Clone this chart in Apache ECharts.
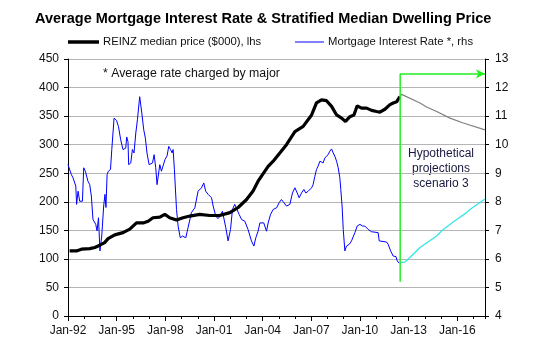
<!DOCTYPE html>
<html><head><meta charset="utf-8">
<script src="https://cdn.jsdelivr.net/npm/echarts@6/dist/echarts.min.js"></script>
<style>html,body{margin:0;padding:0;background:#fff}#c{width:550px;height:343px}</style>
</head><body><div id="c"></div>
<script>
// ---- data (x = decimal year) ----
const xTickYears = [1992,1995,1998,2001,2004,2007,2010,2013,2016];
const leftTicks = [0,50,100,150,200,250,300,350,400,450];
const rightTicks = [4,5,6,7,8,9,10,11,12,13];
const seriesNames = ['REINZ median price ($000), lhs', 'Mortgage Interest Rate *, rhs'];

const priceYears = [1992.10,1992.52,1992.83,1993.34,1993.65,1993.96,1994.26,1994.47,1994.88,1995.39,1995.81,1996.22,1996.63,1996.94,1997.24,1997.66,1997.97,1998.27,1998.69,1999.09,1999.51,2000.12,2000.74,2001.35,2001.98,2002.49,2003.01,2003.41,2003.72,2003.93,2004.34,2004.65,2005.06,2005.47,2005.99,2006.50,2007.02,2007.32,2007.63,2007.94,2008.25,2008.56,2008.87,2009.11,2009.38,2009.63,2009.83,2010.10,2010.41,2010.72,2011.03,2011.23,2011.54,2011.85,2012.05,2012.26,2012.46];
const priceValues = [114,114,117,118,120,124,128.5,135.5,142,146,152,163,163,166,172,173,178,172,168,172,175,178,176,176,181,190,204,219,236,245,262,271,285.5,300,323,332,352,373,378.5,377,367,352,346.5,340.7,349,352,368,364,364,360,358,357,362,370,373,375,384];

const rateYears = [1992.00,1992.10,1992.21,1992.31,1992.48,1992.53,1992.62,1992.72,1992.89,1992.97,1993.07,1993.23,1993.34,1993.44,1993.54,1993.71,1993.79,1993.88,1993.97,1994.08,1994.20,1994.28,1994.34,1994.41,1994.49,1994.62,1994.70,1994.84,1994.99,1995.11,1995.25,1995.39,1995.50,1995.56,1995.62,1995.70,1995.74,1995.87,1995.97,1996.07,1996.18,1996.28,1996.42,1996.55,1996.67,1996.77,1996.87,1997.00,1997.08,1997.21,1997.31,1997.41,1997.49,1997.66,1997.76,1997.86,1997.98,1998.11,1998.21,1998.32,1998.42,1998.48,1998.56,1998.69,1998.79,1998.92,1999.06,1999.26,1999.40,1999.61,1999.82,2000.02,2000.23,2000.37,2000.49,2000.64,2000.85,2000.95,2001.11,2001.25,2001.38,2001.52,2001.62,2001.73,2001.87,2002.02,2002.14,2002.28,2002.39,2002.55,2002.70,2002.90,2003.10,2003.21,2003.31,2003.46,2003.58,2003.72,2003.83,2003.93,2004.07,2004.24,2004.34,2004.49,2004.65,2004.86,2005.02,2005.16,2005.31,2005.47,2005.68,2005.84,2005.99,2006.13,2006.25,2006.40,2006.54,2006.66,2006.81,2007.02,2007.11,2007.22,2007.32,2007.42,2007.53,2007.63,2007.73,2007.84,2007.94,2008.04,2008.14,2008.25,2008.35,2008.45,2008.56,2008.66,2008.76,2008.82,2008.90,2008.97,2009.07,2009.17,2009.34,2009.48,2009.58,2009.69,2009.83,2010.00,2010.16,2010.30,2010.41,2010.51,2010.72,2011.12,2011.19,2011.64,2011.74,2011.89,2011.97,2012.05,2012.22,2012.30,2012.42];
const rateValues = [9.30,9.35,8.95,8.84,8.55,7.91,8.37,8.02,8.02,9.19,9.07,8.72,8.60,8.20,7.38,7.21,6.98,7.44,6.28,6.80,7.85,8.26,7.80,8.95,9.07,9.13,9.83,10.93,10.85,10.64,10.17,9.83,9.77,9.88,10.27,10.10,9.30,9.36,9.83,9.71,10.41,10.87,11.68,11.11,10.52,10.23,9.71,9.30,9.36,9.36,9.65,9.19,8.60,9.30,9.07,9.13,9.48,9.61,9.94,9.83,9.71,9.83,9.13,7.73,7.15,6.74,6.80,6.74,7.09,7.62,7.79,8.37,8.49,8.66,8.37,8.26,8.14,7.85,7.50,7.41,7.50,7.67,7.67,7.09,6.63,7.03,7.73,7.91,7.85,7.56,7.38,7.32,7.03,6.97,6.63,6.45,6.74,6.97,7.26,7.32,7.26,6.97,7.26,7.56,7.73,7.79,7.97,8.08,7.97,7.85,7.91,8.31,8.49,8.31,8.14,8.31,8.43,8.31,8.37,8.49,8.60,8.89,9.13,9.25,9.42,9.48,9.36,9.54,9.48,9.65,9.77,9.85,9.71,9.60,9.42,9.19,8.84,8.43,7.85,7.03,6.28,6.45,6.51,6.63,6.68,6.92,7.15,7.21,7.15,7.15,7.21,7.03,6.95,6.92,6.63,6.59,6.51,6.28,6.22,6.10,6.08,5.93,5.85];

const priceProjYears = [2012.46,2012.57,2013.70,2014.11,2014.73,2015.55,2016.37,2017.71];
const priceProjValues = [384,388,373,366,358,346.5,338,326];

const rateProjYears = [2012.51,2012.77,2013.08,2013.70,2014.73,2015.13,2015.96,2016.58,2016.78,2017.71];
const rateProjValues = [5.87,5.89,6.05,6.40,6.80,7.03,7.38,7.62,7.73,8.10];

const arrowYear = 2012.48, arrowEndYear = 2017.71, arrowBottom = 5.2, arrowTop = 12.48;

const xMin = 1992, xMax = 2017.71;

const zip = (a, b) => a.map((v, i) => [v, b[i]]);
const FONT = 'Liberation Sans, Arial, sans-serif';

const chart = echarts.init(document.getElementById('c'), null, {renderer: 'canvas'});
chart.setOption({
  animation: false,
  backgroundColor: '#fff',
  textStyle: {fontFamily: FONT},
  grid: {left: 68, right: 65, top: 59, bottom: 27, containLabel: false},
  graphic: [
    {type: 'text', x: 35, y: 11, style: {text: 'Average Mortgage Interest Rate & Stratified Median Dwelling Price', font: 'bold 14.5px ' + FONT, fill: '#000'}},
    {type: 'line', shape: {x1: 68, y1: 42, x2: 99, y2: 42}, style: {stroke: '#000', lineWidth: 3.5}},
    {type: 'text', x: 103, y: 42, style: {text: seriesNames[0], font: '11.3px ' + FONT, fill: '#111', verticalAlign: 'middle'}},
    {type: 'line', shape: {x1: 295, y1: 42, x2: 324, y2: 42}, style: {stroke: '#0000ff', lineWidth: 1}},
    {type: 'text', x: 328, y: 42, style: {text: seriesNames[1], font: '11.3px ' + FONT, fill: '#111', verticalAlign: 'middle'}},
    {type: 'text', x: 103, y: 68, style: {text: '* Average rate charged by major', font: '12.3px ' + FONT, fill: '#111'}},
    {type: 'text', x: 441, y: 146, style: {text: 'Hypothetical\nprojections\nscenario 3', font: '12px ' + FONT, fill: '#1a1a40', align: 'center', lineHeight: 15}}
  ],
  xAxis: [{
    type: 'value', min: xMin, max: xMax, interval: 3,
    axisLine: {show: true, onZero: false, lineStyle: {color: '#000', width: 1}},
    axisTick: {show: true, length: 5, inside: false, lineStyle: {color: '#000'}},
    axisLabel: {fontSize: 12, color: '#111', margin: 9, fontFamily: FONT, showMaxLabel: false,
      formatter: v => xTickYears.indexOf(v) >= 0 ? 'Jan-' + String(v).slice(2) : ''},
    splitLine: {show: false}
  }, {
    type: 'value', min: xMin, max: xMax, interval: 1, position: 'bottom',
    axisLine: {show: false, onZero: false},
    axisTick: {show: true, length: 3, inside: false, lineStyle: {color: '#000'}},
    axisLabel: {show: false}, splitLine: {show: false}
  }],
  yAxis: [{
    type: 'value', min: leftTicks[0], max: leftTicks[leftTicks.length - 1], interval: 50, position: 'left',
    axisLine: {show: true, lineStyle: {color: '#000'}},
    axisTick: {show: true, length: 4, lineStyle: {color: '#000'}},
    axisLabel: {fontSize: 12, color: '#111', margin: 9, fontFamily: FONT},
    splitLine: {show: true, lineStyle: {color: '#b4b4b4', width: 1}}
  }, {
    type: 'value', min: rightTicks[0], max: rightTicks[rightTicks.length - 1], interval: 1, position: 'right',
    axisLine: {show: true, lineStyle: {color: '#000'}},
    axisTick: {show: true, length: 4, lineStyle: {color: '#000'}},
    axisLabel: {fontSize: 12, color: '#111', margin: 10, fontFamily: FONT},
    splitLine: {show: false}
  }],
  series: [
    {name: seriesNames[1], type: 'line', yAxisIndex: 1, data: zip(rateYears, rateValues),
      symbol: 'none', lineStyle: {color: '#0000ff', width: 1}, itemStyle: {color: '#0000ff'}, z: 3},
    {name: seriesNames[0], type: 'line', yAxisIndex: 0, data: zip(priceYears, priceValues),
      symbol: 'none', lineStyle: {color: '#000', width: 3.2}, itemStyle: {color: '#000'}, z: 4},
    {name: 'price projection', type: 'line', yAxisIndex: 0, data: zip(priceProjYears, priceProjValues),
      symbol: 'none', lineStyle: {color: '#808080', width: 1.2}, z: 3},
    {name: 'rate projection', type: 'line', yAxisIndex: 1, data: zip(rateProjYears, rateProjValues),
      symbol: 'none', lineStyle: {color: '#33e6e6', width: 1.3}, z: 3},
    {name: 'arrow', type: 'line', yAxisIndex: 1, data: [[arrowYear, arrowBottom], [arrowYear, arrowTop]],
      symbol: 'none', lineStyle: {color: '#22ee22', width: 1.5}, z: 5,
      markLine: {silent: true, symbol: ['none', 'arrow'], symbolSize: [7, 9],
        lineStyle: {color: '#22ee22', width: 1.5, type: 'solid'}, label: {show: false},
        data: [[{coord: [arrowYear, arrowTop]}, {coord: [arrowEndYear, arrowTop]}]]}}
  ]
});
</script></body></html>
